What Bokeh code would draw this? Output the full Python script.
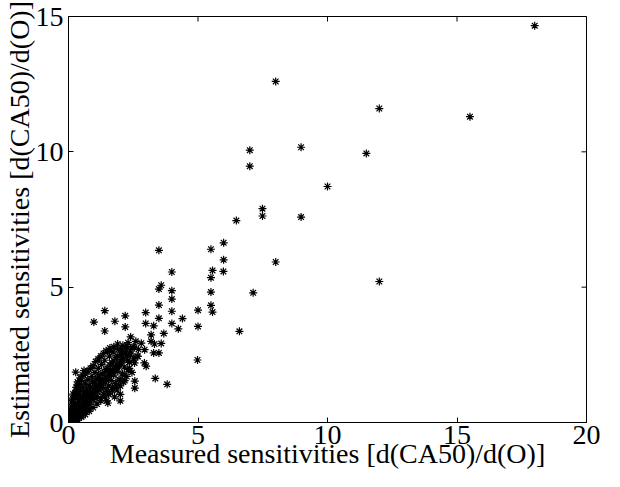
import math
from bokeh.plotting import figure
from bokeh.models import FixedTicker, Range1d
from bokeh.embed import file_html
from bokeh.resources import INLINE

# Sparse (outlying) points: measured vs estimated sensitivities
meas_sparse = [18.0, 12.0, 15.5, 8.98, 11.5, 10.0, 8.98, 12.0, 8.0,
               7.0, 7.0, 7.49, 7.49, 6.48, 5.99, 5.5, 5.99, 8.0, 5.56, 5.98, 5.5, 3.99,
               5.5, 7.13, 3.99, 3.99, 3.99, 3.99, 5.5, 5.56, 5.0, 4.4, 4.24, 5.0, 6.6,
               3.49, 3.58, 3.49, 3.49, 2.98, 1.4, 2.19, 0.98, 1.79, 2.98, 3.49, 3.29,
               1.4, 2.19, 3.68, 3.19, 2.4, 2.81, 3.19, 3.32, 3.58, 2.94, 3.29, 3.49,
               2.55, 2.29, 2.04, 1.59, 2.68, 4.98, 2.93, 3.0, 2.52, 2.36, 2.1, 3.35,
               3.81, 0.28, 0.6, 0.37, 2.56, 2.56, 2.0, 2.0, 1.52, 1.78, 2.17]
est_sparse = [14.66, 11.6, 11.3, 10.17, 9.94, 8.72, 7.59, 5.21, 12.6,
              10.06, 9.47, 7.9, 7.63, 7.46, 6.64, 6.4, 6.01, 5.93, 5.62, 5.58, 5.35, 5.56,
              4.82, 4.79, 4.87, 4.56, 4.11, 3.66, 4.33, 4.08, 4.15, 3.84, 3.46, 3.55, 3.37,
              6.36, 5.07, 4.93, 4.34, 4.06, 4.13, 3.94, 3.71, 3.74, 3.66, 3.85, 3.57,
              3.38, 3.53, 3.29, 3.24, 3.16, 2.93, 3.0, 2.9, 2.92, 2.69, 2.57, 2.57,
              2.78, 2.75, 2.71, 2.63, 2.44, 2.31, 2.2, 2.08, 2.35, 2.22, 2.41, 1.63,
              1.41, 1.86, 1.92, 1.46, 1.53, 1.27, 1.04, 0.8, 0.72, 1.31, 1.55]

# Dense cluster near the origin
meas_dense = [0.02, 0.05, 0.08, 0.10, 0.12, 0.15, 0.18, 0.20, 0.22, 0.25, 0.28, 0.30, 0.32, 0.35,
              0.38, 0.40, 0.42, 0.45, 0.48, 0.50, 0.52, 0.55, 0.58, 0.60, 0.62, 0.65, 0.68, 0.70,
              0.72, 0.75, 0.78, 0.80, 0.05, 0.08, 0.10, 0.12, 0.15, 0.18, 0.20, 0.25, 0.28, 0.30,
              0.32, 0.35, 0.38, 0.40, 0.42, 0.45, 0.48, 0.50, 0.55, 0.58, 0.60, 0.65, 0.70, 0.72,
              0.75, 0.80, 0.82, 0.85, 0.88, 0.90, 0.92, 0.95, 0.98, 1.00, 1.02, 1.05, 1.08, 1.10,
              1.12, 1.15, 1.18, 1.20, 1.22, 1.25, 1.28, 1.30, 1.32, 1.35, 1.38, 1.40, 1.42, 1.45,
              1.48, 1.50, 1.52, 1.55, 1.58, 1.60, 1.62, 1.65, 1.68, 1.70, 1.72, 1.75, 1.78, 1.80,
              1.82, 1.85, 1.88, 1.90, 1.92, 1.95, 1.98, 2.00, 2.05, 2.08, 2.10, 2.12, 2.15, 2.20,
              2.25, 2.28, 2.30, 2.35, 2.40, 2.45, 2.50, 2.55, 2.60, 2.65, 2.70,
              0.03, 0.06, 0.09, 0.14, 0.17, 0.24, 0.27, 0.34, 0.44, 0.54, 0.64, 0.74, 0.84, 0.94,
              1.04, 1.14, 1.24, 1.34, 1.44, 1.54, 1.64, 1.74, 1.84, 1.94, 2.04,
              0.15, 0.30, 0.45, 0.60, 0.75, 0.90, 1.05, 1.20, 1.35, 1.50, 1.65, 1.80, 1.95, 2.10,
              2.25, 2.40,
              0.10, 0.25, 0.40, 0.55, 0.70, 0.85, 1.00, 1.15, 1.30, 1.45, 1.60, 1.75, 1.90, 2.05,
              2.20,
              0.20, 0.35, 0.50, 0.65, 0.80, 0.95, 1.10, 1.25, 1.40, 1.55, 1.70, 1.85, 2.00, 2.15,
              2.30,
              0.20, 0.25, 0.30, 0.35, 0.45, 0.55, 0.65, 0.75, 0.85, 0.95, 1.05, 1.15, 1.25, 1.35,
              1.45, 1.60, 1.75, 1.90]
est_dense = [0.03, 0.08, 0.04, 0.15, 0.10, 0.05, 0.20, 0.12, 0.28, 0.18, 0.08, 0.35, 0.22, 0.15,
             0.42, 0.30, 0.20, 0.50, 0.36, 0.25, 0.60, 0.45, 0.32, 0.70, 0.52, 0.40, 0.78, 0.60,
             0.45, 0.88, 0.68, 0.50, 0.30, 0.45, 0.60, 0.75, 0.90, 1.05, 0.50, 0.70, 0.95, 1.15,
             1.30, 0.60, 0.85, 1.05, 1.40, 1.20, 0.95, 1.55, 1.30, 1.10, 0.90, 1.45, 1.20, 1.00,
             1.60, 1.35, 1.10, 0.75, 0.95, 1.70, 1.50, 1.25, 0.85, 1.05, 1.85, 1.60, 1.35, 0.95,
             1.15, 2.00, 1.75, 1.45, 1.20, 0.90, 2.15, 1.60, 1.30, 1.05, 1.85, 2.30, 1.50, 1.20,
             0.80, 2.00, 1.70, 1.35, 2.45, 1.10, 1.90, 1.55, 2.20, 1.30, 2.60, 1.75, 0.95, 2.05,
             1.45, 2.40, 1.20, 1.90, 2.70, 1.60, 2.20, 1.35, 2.50, 1.80, 2.85, 1.50, 2.05, 2.60,
             1.70, 2.30, 2.95, 2.00, 2.50, 1.85, 2.80, 2.20, 3.00, 2.45, 2.70,
             0.12, 0.20, 0.25, 0.30, 0.40, 0.38, 0.55, 0.45, 0.62, 0.70, 0.80, 0.90, 1.00, 1.10,
             1.20, 1.30, 1.40, 1.50, 1.60, 1.70, 1.80, 1.90, 2.00, 2.10, 2.25,
             0.17, 0.33, 0.50, 0.66, 0.83, 1.00, 1.16, 1.32, 1.50, 1.65, 1.82, 1.98, 2.15, 2.30,
             2.48, 2.64,
             0.40, 0.60, 0.78, 0.95, 1.12, 1.30, 1.45, 1.62, 1.80, 1.95, 2.12, 2.28, 2.45, 2.62,
             2.78,
             0.05, 0.10, 0.20, 0.30, 0.42, 0.55, 0.68, 0.80, 0.95, 1.05, 1.20, 1.35, 1.55, 1.75,
             1.95,
             0.85, 1.10, 1.30, 1.50, 1.65, 1.75, 1.80, 1.90, 2.00, 2.10, 2.25, 2.35, 2.45, 2.55,
             2.65, 2.75, 2.80, 2.90]

meas = meas_sparse + meas_dense
est = est_sparse + est_dense

x_ticks = [0, 5, 10, 15, 20]
y_ticks = [0, 5, 10, 15]
x_label = "Measured sensitivities [d(CA50)/d(O)]"
y_label = "Estimated sensitivities [d(CA50)/d(O)]"

FONT = "Liberation Serif"
X_MIN, X_MAX, Y_MIN, Y_MAX = 0, 20, 0, 15

p = figure(width=604, height=479, x_range=Range1d(X_MIN, X_MAX), y_range=Range1d(Y_MIN, Y_MAX),
           output_backend="svg", toolbar_location=None,
           min_border_left=66, min_border_right=18, min_border_top=16, min_border_bottom=57,
           x_axis_label=x_label, y_axis_label=y_label)
# keep the page inside the 487px window despite the body margin
p.styles = {"margin-bottom": "-8px"}
p.grid.visible = False
p.outline_line_color = "black"
p.outline_line_width = 1
p.background_fill_color = "white"
p.border_fill_color = "white"

for ax in p.xaxis + p.yaxis:
    ax.major_tick_in = 5
    ax.major_tick_out = 0
    ax.minor_tick_in = 0
    ax.minor_tick_out = 0
    ax.axis_line_color = "black"
    ax.major_tick_line_color = "black"
    ax.major_label_text_font = FONT
    ax.major_label_text_font_size = "28px"
    ax.major_label_text_color = "black"
    ax.axis_label_text_font = FONT
    ax.axis_label_text_font_size = "28px"
    ax.axis_label_text_font_style = "normal"
    ax.axis_label_text_color = "black"

p.xaxis.ticker = FixedTicker(ticks=x_ticks)
p.yaxis.ticker = FixedTicker(ticks=y_ticks)
p.xaxis.major_label_standoff = 3
p.xaxis.axis_label_standoff = -9
p.yaxis.major_label_standoff = 5
p.yaxis.axis_label_standoff = -2

# Inward tick marks on the top and right edges of the box (MATLAB style)
p.scatter(x_ticks, [Y_MAX] * len(x_ticks), marker="dash", angle=math.pi / 2, size=10,
          line_color="black", line_width=1)
p.scatter([X_MAX] * len(y_ticks), y_ticks, marker="dash", size=10,
          line_color="black", line_width=1)

p.scatter(meas, est, marker="asterisk", size=8, line_color="black", line_width=1.2)

open("out.html", "w").write(file_html(p, INLINE))
